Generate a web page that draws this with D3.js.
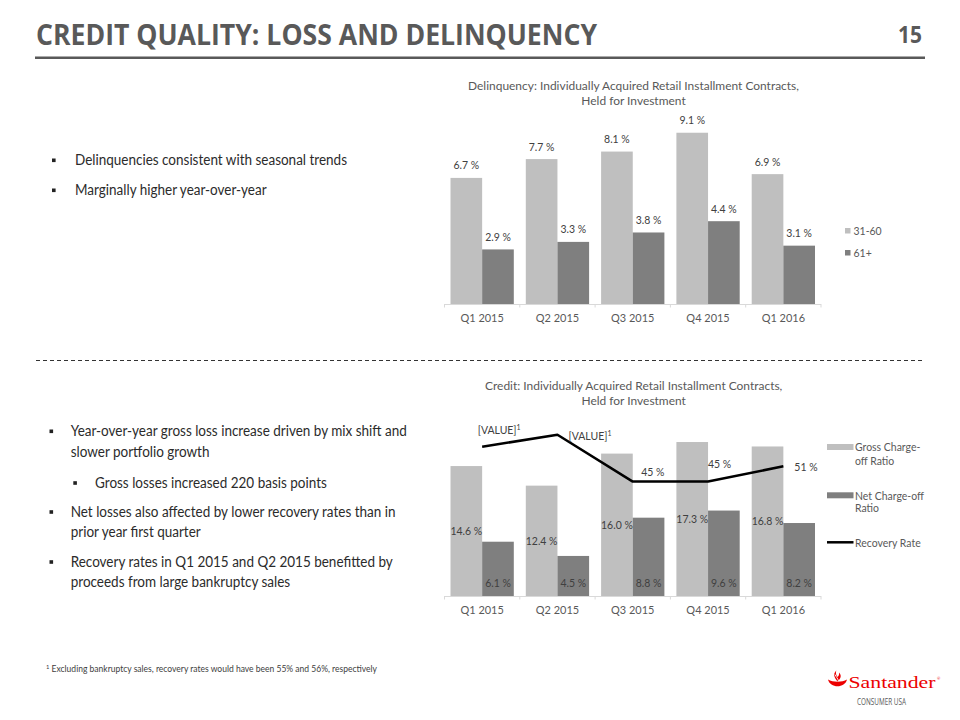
<!DOCTYPE html>
<html><head><meta charset="utf-8">
<script src="https://cdn.jsdelivr.net/npm/d3@7"></script>
<style>body{margin:0;background:#fff} svg{display:block}</style>
</head><body>
<script>
// ---------- DATA ----------
const categories = ["Q1 2015", "Q2 2015", "Q3 2015", "Q4 2015", "Q1 2016"];
const delinquencySeries = ["31-60", "61+"];
const delinquency3160 = [6.7, 7.7, 8.1, 9.1, 6.9];
const delinquency61 = [2.9, 3.3, 3.8, 4.4, 3.1];
const creditSeries = ["Gross Charge-off Ratio", "Net Charge-off Ratio", "Recovery Rate"];
const grossChargeOff = [14.6, 12.4, 16.0, 17.3, 16.8];
const netChargeOff = [6.1, 4.5, 8.8, 9.6, 8.2];
const recoveryRate = [58.7, 63.4, 45, 45, 51];
const recoveryLabels = ["[VALUE]", "[VALUE]", "45 %", "45 %", "51 %"];
const recoveryMarks = ["1", "1", "", "", ""];
const bulletsTop = ["Delinquencies consistent with seasonal trends", "Marginally higher year-over-year"];
const bulletsBottom = [
  {lvl:0, lines:["Year-over-year gross loss increase driven by mix shift and", "slower portfolio growth"]},
  {lvl:1, lines:["Gross losses increased 220 basis points"]},
  {lvl:0, lines:["Net losses also affected by lower recovery rates than in", "prior year first quarter"]},
  {lvl:0, lines:["Recovery rates in Q1 2015 and Q2 2015 benefitted by", "proceeds from large bankruptcy sales"]}
];
const footnote = "Excluding bankruptcy sales, recovery rates would have been 55% and 56%, respectively";

// ---------- SETUP ----------
const W = 960, H = 720;
const FONT = "Lato, 'Open Sans', sans-serif";
const svg = d3.select("body").append("svg").attr("width", W).attr("height", H)
  .style("font-family", FONT);
const LIGHT = "#BFBFBF", DARK = "#7F7F7F", TXT = "#595959", LBL = "#404040";
const fmt = v => d3.format(".1f")(v) + " %";

function condense(sel, f) {
  sel.each(function () {
    const L = this.getComputedTextLength();
    d3.select(this).attr("textLength", L * f).attr("lengthAdjust", "spacingAndGlyphs");
  });
}

// ---------- HEADER ----------
const title = svg.append("text").attr("x", 36).attr("y", 45)
  .attr("font-family", "'Open Sans', sans-serif").attr("font-weight", 700)
  .attr("font-size", 28).attr("fill", TXT).text("CREDIT QUALITY: LOSS AND DELINQUENCY");
title.attr("textLength", 561).attr("lengthAdjust", "spacingAndGlyphs");
svg.append("text").attr("x", 922).attr("y", 43).attr("text-anchor", "end")
  .attr("font-family", "'Open Sans', sans-serif").attr("font-weight", 700)
  .attr("font-size", 23).attr("fill", TXT).text("15")
  .attr("textLength", 24).attr("lengthAdjust", "spacingAndGlyphs");
svg.append("rect").attr("x", 35).attr("y", 56.5).attr("width", 890).attr("height", 2.5).attr("fill", TXT);

svg.append("line").attr("x1", 36).attr("x2", 925).attr("y1", 360.5).attr("y2", 360.5)
  .attr("stroke", "#333").attr("stroke-width", 1).attr("stroke-dasharray", "4,3");

// ---------- BULLETS ----------
const bulG = svg.append("g");
function bullet(x, textX, baseline, lines, lineH) {
  bulG.append("rect").attr("x", x).attr("y", baseline - 6.5).attr("width", 3.6).attr("height", 3.6).attr("fill", "#222");
  lines.forEach((t, i) => {
    bulG.append("text").attr("class", "bul").attr("x", textX).attr("y", baseline + i * lineH)
      .attr("font-size", 15.5).attr("fill", "#2b2b2b").text(t);
  });
}
bulletsTop.forEach((t, i) => bullet(52, 75, 165 + i * 30, [t], 20));
let by = 436;
const bottomSteps = [51.7, 29, 50, 0];
bulletsBottom.forEach((b, i) => {
  const bx = b.lvl ? 73.3 : 49.5, tx = b.lvl ? 95 : 70.7;
  bullet(bx, tx, by, b.lines, 20.5);
  by += bottomSteps[i];
});
const bulFactor = 272 / bulG.select("text.bul").node().getComputedTextLength();
condense(bulG.selectAll("text.bul"), bulFactor);

// footnote
const fn = svg.append("text").attr("x", 46).attr("y", 672).attr("font-size", 9.5).attr("fill", LBL);
fn.append("tspan").attr("font-size", 6.5).attr("dy", -3).text("1");
fn.append("tspan").attr("dy", 3).text(" " + footnote);
fn.attr("textLength", 331).attr("lengthAdjust", "spacingAndGlyphs");

// ---------- CHART HELPERS ----------
const chartTexts = [];
function ctext(g, x, y, t, size, fill, anchor) {
  const e = g.append("text").attr("x", x).attr("y", y).attr("font-size", size)
    .attr("fill", fill).attr("text-anchor", anchor || "middle").text(t);
  chartTexts.push(e.node());
  return e;
}
const x0 = d3.scaleBand().domain(categories).range([444.5, 821]).padding(0);
const bw = x0.bandwidth();
const x1 = d3.scaleBand().domain([0, 1]).range([6, bw - 6]).padding(0);

function axis(g, base) {
  g.append("line").attr("x1", x0.range()[0]).attr("x2", x0.range()[1])
    .attr("y1", base + 0.5).attr("y2", base + 0.5).attr("stroke", "#D9D9D9");
  const ticks = categories.map(c => x0(c)).concat([x0.range()[1]]);
  g.selectAll("line.tk").data(ticks).enter().append("line").attr("class", "tk")
    .attr("x1", d => d).attr("x2", d => d).attr("y1", base).attr("y2", base + 3.5)
    .attr("stroke", "#D9D9D9");
  categories.forEach(c => ctext(g, x0(c) + bw / 2, base + 17.5, c, 11, TXT));
}

// ---------- TOP CHART ----------
const gT = svg.append("g");
ctext(gT, 633.5, 90, "Delinquency: Individually Acquired Retail Installment Contracts,", 12, TXT);
ctext(gT, 633.5, 105, "Held for Investment", 12, TXT);
const yT = d3.scaleLinear().domain([0, 10]).range([304, 115.8]);
[delinquency3160, delinquency61].forEach((vals, si) => {
  gT.selectAll("rect.s" + si).data(vals).enter().append("rect").attr("class", "s" + si)
    .attr("x", (d, i) => x0(categories[i]) + x1(si)).attr("width", x1.bandwidth())
    .attr("y", d => yT(d)).attr("height", d => yT(0) - yT(d))
    .attr("fill", si ? DARK : LIGHT);
  vals.forEach((v, i) => ctext(gT, x0(categories[i]) + x1(si) + x1.bandwidth() / 2, yT(v) - 8.5, fmt(v), 10.5, LBL));
});
axis(gT, 304);
delinquencySeries.forEach((s, i) => {
  gT.append("rect").attr("x", 845).attr("y", 228 + i * 22).attr("width", 5.5).attr("height", 5.5).attr("fill", i ? DARK : LIGHT);
  ctext(gT, 853.5, 234.8 + i * 22, s, 10.5, TXT, "start");
});

// ---------- BOTTOM CHART ----------
const gB = svg.append("g");
ctext(gB, 633.7, 390, "Credit: Individually Acquired Retail Installment Contracts,", 12, TXT);
ctext(gB, 633.7, 405, "Held for Investment", 12, TXT);
const yL = d3.scaleLinear().domain([0, 20]).range([596, 418]);
const yR = d3.scaleLinear().domain([0, 70]).range([596, 418]);
[grossChargeOff, netChargeOff].forEach((vals, si) => {
  gB.selectAll("rect.s" + si).data(vals).enter().append("rect").attr("class", "s" + si)
    .attr("x", (d, i) => x0(categories[i]) + x1(si)).attr("width", x1.bandwidth())
    .attr("y", d => yL(d)).attr("height", d => yL(0) - yL(d))
    .attr("fill", si ? DARK : LIGHT);
});
axis(gB, 596);
grossChargeOff.forEach((v, i) => ctext(gB, x0(categories[i]) + x1(0) + x1.bandwidth() / 2, (yL(v) + yL(0)) / 2 + 4, fmt(v), 10.5, LBL));
netChargeOff.forEach((v, i) => ctext(gB, x0(categories[i]) + x1(1) + x1.bandwidth() / 2, yL(0) - 9, fmt(v), 10.5, LBL));

const line = d3.line().x((d, i) => x0(categories[i]) + bw / 2).y(d => yR(d));
gB.append("path").datum(recoveryRate).attr("d", line).attr("fill", "none")
  .attr("stroke", "#000").attr("stroke-width", 2.5).attr("stroke-linejoin", "round");
const labelOffsets = [[-4.5, -12.5], [11, 5.5], [8.5, -6], [0, -13.5], [11, 5]];
recoveryRate.forEach((v, i) => {
  const px = x0(categories[i]) + bw / 2, py = yR(v);
  const t = ctext(gB, px + labelOffsets[i][0], py + labelOffsets[i][1], "", 10.5, LBL, "start");
  t.append("tspan").text(recoveryLabels[i]);
  if (recoveryMarks[i]) t.append("tspan").attr("font-size", 7).attr("dy", -4).text(recoveryMarks[i]);
});

// legend bottom
gB.append("rect").attr("x", 827).attr("y", 444).attr("width", 26.5).attr("height", 6).attr("fill", LIGHT);
ctext(gB, 855, 451, "Gross Charge-", 10.5, TXT, "start");
ctext(gB, 855, 464.5, "off Ratio", 10.5, TXT, "start");
gB.append("rect").attr("x", 827).attr("y", 492.3).attr("width", 26.5).attr("height", 6).attr("fill", DARK);
ctext(gB, 855, 499.5, "Net Charge-off", 10.5, TXT, "start");
ctext(gB, 855, 512, "Ratio", 10.5, TXT, "start");
gB.append("line").attr("x1", 827).attr("x2", 853.5).attr("y1", 542.3).attr("y2", 542.3).attr("stroke", "#000").attr("stroke-width", 2.5);
ctext(gB, 855, 546.7, "Recovery Rate", 10.5, TXT, "start");

// condense chart text like Calibri
const tmp = chartTexts[0];
const chartFactor = 331 / tmp.getComputedTextLength();
condense(d3.selectAll(chartTexts), chartFactor);

// ---------- LOGO ----------
const RED = "#EC0000";
const lg = svg.append("g");
lg.append("path").attr("fill", RED)
  .attr("d", "M828,679.5 C830,688.5 845,688.5 847,679.5 C842,682.5 833,682.5 828,679.5 Z");
lg.append("path").attr("fill", RED)
  .attr("d", "M836.3,670.5 C832.5,674.5 834.5,677.5 837.5,681.5 C841.5,678 841.5,675 839,672.5 C839.5,674.5 838.5,676 837.5,677 C836,675 835.5,673 836.3,670.5 Z");
lg.append("path").attr("fill", "none").attr("stroke", "#fff").attr("stroke-width", 0.9)
  .attr("d", "M835,674.5 C836,677 838,678.5 838.5,681");
lg.append("text").attr("x", 848.5).attr("y", 687.5)
  .attr("font-family", "'Liberation Serif', 'DejaVu Serif', serif")
  .attr("font-size", 16).attr("fill", RED).text("Santander")
  .attr("textLength", 87).attr("lengthAdjust", "spacingAndGlyphs");
lg.append("text").attr("x", 937).attr("y", 680).attr("font-size", 4).attr("fill", RED).text("®");
lg.append("text").attr("x", 857).attr("y", 705).attr("font-family", "'Open Sans', sans-serif")
  .attr("font-size", 8.5).attr("fill", TXT).text("CONSUMER USA")
  .attr("textLength", 49).attr("lengthAdjust", "spacingAndGlyphs");
</script>
</body></html>
